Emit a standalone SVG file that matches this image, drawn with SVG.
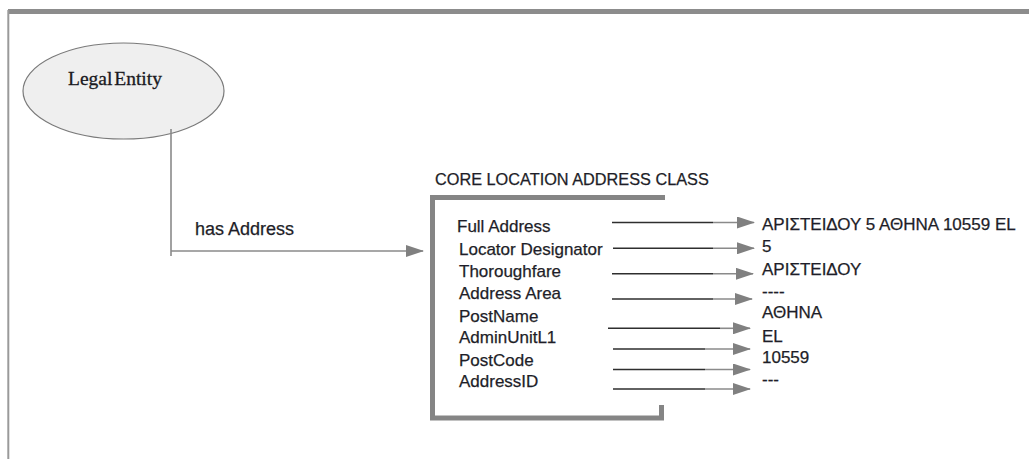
<svg xmlns="http://www.w3.org/2000/svg" width="1029" height="459" viewBox="0 0 1029 459">
  <style>
    .sans { font-family: "Liberation Sans", Arial, sans-serif; fill: #1e1e28; stroke: #1e1e28; stroke-width: 0.25; }
    .attr { font-size: 17px; }
    .val { font-size: 17px; }
    .dark { stroke: #2e2e2e; stroke-width: 1.6; fill: none; }
    .grey { stroke: #8a8a8a; stroke-width: 1.6; fill: none; }
    .bracket { stroke: #858585; stroke-width: 5; fill: none; }
  </style>
  <defs>
    <marker id="head" markerUnits="userSpaceOnUse" markerWidth="18" markerHeight="12" refX="17" refY="6" orient="auto">
      <path d="M0,0 L18,6 L0,12 z" fill="#808080"/>
    </marker>
  </defs>

  <rect width="1029" height="459" fill="#ffffff"/>

  <!-- page frame -->
  <g id="frame">
    <line x1="8" y1="11.5" x2="1029" y2="11.5" stroke="#8c8c8c" stroke-width="5"/>
    <line x1="8.3" y1="10" x2="8.3" y2="459" stroke="#9a9a9a" stroke-width="2"/>
  </g>

  <!-- entity -->
  <g id="legal-entity">
    <ellipse cx="123.5" cy="91" rx="100.5" ry="48" fill="#efefef" stroke="#7a7a7a" stroke-width="1.2"/>
    <text x="68" y="85" font-family="'Liberation Serif', 'Times New Roman', serif" font-size="19.5" fill="#1a1a22" stroke="#1a1a22" stroke-width="0.3" word-spacing="-3">Legal Entity</text>
  </g>

  <!-- address class box -->
  <g id="address-class">
    <text class="sans" x="435" y="185" font-size="16.3">CORE LOCATION ADDRESS CLASS</text>
    <path class="bracket" d="M665,197.5 H432.5 V418 H661.5 V405"/>
    <g class="sans attr">
      <text x="457" y="232">Full Address</text>
      <text x="459" y="255">Locator Designator</text>
      <text x="459" y="277">Thoroughfare</text>
      <text x="459" y="298.5">Address Area</text>
      <text x="459" y="322">PostName</text>
      <text x="459" y="343">AdminUnitL1</text>
      <text x="459" y="366">PostCode</text>
      <text x="459" y="387">AddressID</text>
    </g>
  </g>

  <!-- values -->
  <g id="values" class="sans val">
    <text x="762" y="230">ΑΡΙΣΤΕΙΔΟΥ 5 ΑΘΗΝΑ 10559 EL</text>
    <text x="762" y="252">5</text>
    <text x="762" y="275">ΑΡΙΣΤΕΙΔΟΥ</text>
    <text x="762" y="297">----</text>
    <text x="762" y="318">ΑΘΗΝΑ</text>
    <text x="762" y="342">EL</text>
    <text x="762" y="363">10559</text>
    <text x="762" y="385">---</text>
  </g>

  <!-- connectors -->
  <g id="connectors">
    <!-- has Address relation -->
    <polyline class="grey" points="171,129 171,256"/>
    <line class="grey" x1="171" y1="251" x2="423" y2="251" marker-end="url(#head)"/>
    <text class="sans" x="195" y="235" font-size="18">has Address</text>

    <!-- attribute to value arrows -->
    <line class="dark" x1="612" y1="222.5" x2="713" y2="222.5"/>
    <line class="grey" x1="713" y1="222.5" x2="754" y2="222.5" marker-end="url(#head)"/>

    <line class="dark" x1="613" y1="248.3" x2="713" y2="248.3"/>
    <line class="grey" x1="713" y1="248.3" x2="754" y2="248.3" marker-end="url(#head)"/>

    <line class="dark" x1="612" y1="273.8" x2="713" y2="273.8"/>
    <line class="grey" x1="713" y1="273.8" x2="753" y2="273.8" marker-end="url(#head)"/>

    <line class="dark" x1="612" y1="299" x2="713" y2="299"/>
    <line class="grey" x1="713" y1="299" x2="752" y2="299" marker-end="url(#head)"/>

    <line class="dark" x1="608" y1="328.3" x2="720" y2="328.3"/>
    <line class="grey" x1="720" y1="328.3" x2="750" y2="328.3" marker-end="url(#head)"/>

    <line class="dark" x1="613" y1="349" x2="705" y2="349"/>
    <line class="grey" x1="705" y1="349" x2="750" y2="349" marker-end="url(#head)"/>

    <line class="dark" x1="613" y1="369.5" x2="705" y2="369.5"/>
    <line class="grey" x1="705" y1="369.5" x2="750" y2="369.5" marker-end="url(#head)"/>

    <line class="dark" x1="613" y1="389" x2="705" y2="389"/>
    <line class="grey" x1="705" y1="389" x2="750" y2="389" marker-end="url(#head)"/>
  </g>
</svg>
